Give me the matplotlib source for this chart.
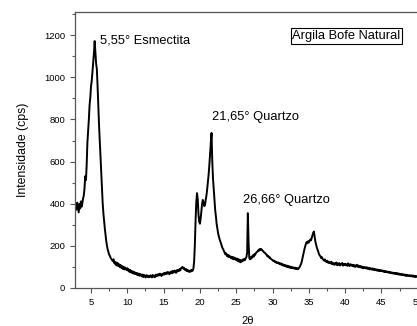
from matplotlib import pyplot as plt
from matplotlib.ticker import MultipleLocator
import numpy as np

plt.rcParams['font.family'] = ['Liberation Sans', 'DejaVu Sans']

counts = [388,
    372, 405, 381, 359, 398, 377, 411, 386, 402, 425,
    438, 472, 530, 512, 585, 690, 742, 801, 868, 905,
    958, 985, 1030, 1072, 1115, 1172, 1120, 1065, 1040, 960,
    860, 775, 700, 620, 540, 470, 405, 355, 318, 282,
    250, 222, 200, 182, 170, 158, 152, 143, 138, 132,
    128, 136, 118, 124, 110, 121, 106, 117, 104, 112,
    98, 108, 95, 104, 90, 101, 88, 97, 92, 85,
    94, 82, 88, 76, 86, 74, 81, 70, 78, 68,
    75, 66, 72, 63, 70, 60, 68, 58, 66, 61,
    55, 64, 52, 62, 56, 50, 61, 54, 59, 51,
    58, 52, 60, 55, 50, 62, 54, 57, 51, 63,
    56, 64, 58, 66, 60, 68, 62, 57, 67, 63,
    70, 64, 72, 66, 74, 68, 76, 70, 65, 75,
    72, 79, 70, 81, 74, 83, 76, 72, 84, 78,
    86, 80, 90, 84, 94, 97, 100, 92, 96, 88,
    84, 90, 80, 86, 78, 82, 76, 84, 79, 86,
    82, 92, 125, 205, 320, 410, 450, 420, 350, 315,
    305, 330, 365, 400, 418, 405, 388, 395, 420, 440,
    470, 505, 540, 585, 640, 690, 736, 600, 520, 470,
    415, 370, 340, 305, 282, 260, 246, 232, 222, 212,
    200, 190, 184, 176, 168, 160, 165, 152, 158, 148,
    155, 146, 150, 141, 148, 138, 146, 136, 144, 139,
    132, 140, 128, 137, 125, 134, 122, 131, 126, 135,
    130, 138, 132, 141, 146, 168, 355, 215, 142, 136,
    146, 140, 150, 155, 148, 160, 157, 165, 170, 172,
    178, 176, 184, 180, 186, 182, 178, 175, 170, 168,
    165, 160, 158, 150, 152, 145, 146, 140, 138, 135,
    132, 128, 130, 124, 126, 120, 122, 118, 121, 115,
    118, 112, 116, 108, 113, 106, 110, 104, 108, 101,
    106, 99, 104, 97, 102, 95, 100, 94, 98, 93,
    97, 91, 96, 90, 94, 89, 93, 98, 104, 112,
    122, 138, 152, 168, 185, 198, 210, 218, 212, 222,
    216, 224, 230, 226, 238, 250, 262, 268, 245, 220,
    205, 192, 182, 172, 160, 155, 150, 142, 146, 138,
    134, 130, 136, 127, 124, 130, 121, 125, 118, 122,
    117, 124, 113, 120, 115, 110, 118, 112, 121, 108,
    116, 110, 118, 107, 114, 112, 119, 106, 113, 109,
    115, 108, 112, 105, 117, 110, 104, 113, 107, 111,
    104, 110, 102, 108, 100, 106, 110, 101, 107, 99,
    105, 98, 103, 96, 101, 94, 100, 97, 93, 99,
    92, 97, 90, 95, 88, 94, 91, 87, 93, 86,
    91, 85, 89, 83, 88, 82, 86, 80, 85, 81,
    84, 79, 83, 77, 81, 75, 80, 76, 78, 73,
    77, 72, 76, 70, 74, 69, 73, 68, 71, 67,
    72, 66, 70, 64, 69, 63, 67, 62, 66, 61,
    65, 60, 64, 58, 63, 57, 62, 59, 56, 61,
    58, 55, 60, 54, 59, 53, 57, 52, 56, 54,
    57]
two_theta = 2.9 + 0.1 * np.arange(len(counts))

peak_labels = ['5,55° Esmectita', '21,65° Quartzo', '26,66° Quartzo']
label_x = [6.3, 21.6, 25.9]
label_y = [1176, 810, 419]

fig = plt.figure(figsize=(4.17, 3.26), dpi=100)
ax = fig.add_axes([0.18, 0.1166, 0.827, 0.8466])

ax.plot(two_theta, counts, color='black', linewidth=1.4)

for txt, tx, ty in zip(peak_labels, label_x, label_y):
    ax.text(tx, ty, txt, fontsize=9.3, va='center', ha='left')

ax.text(0.944, 0.913, 'Argila Bofe Natural', transform=ax.transAxes,
        fontsize=9.3, ha='right', va='center',
        bbox=dict(boxstyle='square,pad=0.12', facecolor='white',
                  edgecolor='black', linewidth=0.8))

ax.set_xlim(2.8, 50.3)
ax.set_ylim(0, 1310)
ax.xaxis.set_major_locator(MultipleLocator(5))
ax.xaxis.set_minor_locator(MultipleLocator(2.5))
ax.yaxis.set_major_locator(MultipleLocator(200))
ax.yaxis.set_minor_locator(MultipleLocator(100))

for sp in ax.spines.values():
    sp.set_color('#555555')
    sp.set_linewidth(0.9)
ax.tick_params(which='both', direction='out', colors='#555555',
               labelcolor='black', labelsize=6.8, width=0.8)
ax.tick_params(which='major', length=3.5)
ax.tick_params(which='minor', length=2)

ax.set_xlabel('2θ', fontsize=8, labelpad=7)
ax.set_ylabel('Intensidade (cps)', fontsize=8.8, labelpad=11)

fig.savefig('out.png', dpi=100)
